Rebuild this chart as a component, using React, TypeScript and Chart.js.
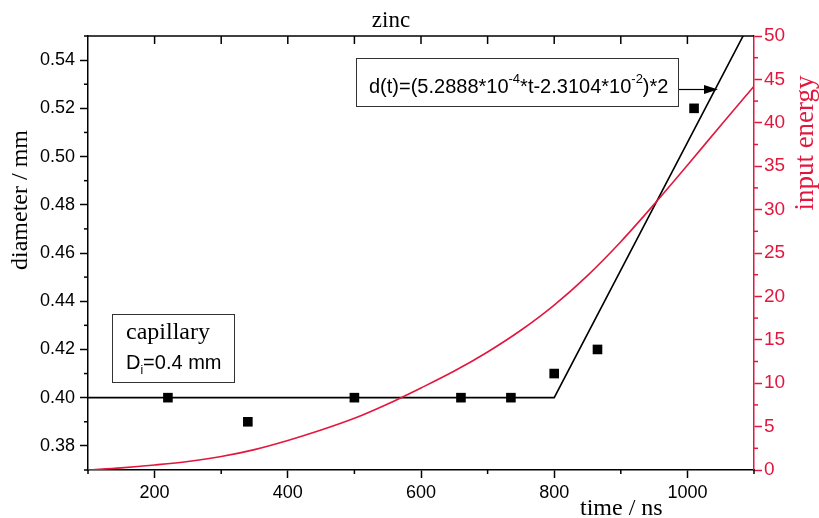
import React, { useEffect, useRef } from "react";
import { Chart, registerables } from "chart.js";

Chart.register(...registerables);

// ---- data ----
const measTime = [220, 340, 500, 660, 735, 800, 865, 1010];
const measDiameter = [0.4, 0.39, 0.4, 0.4, 0.4, 0.41, 0.42, 0.52];

const fitTime = [100, 800, 1100];
const fitDiameter = [0.4, 0.4, 0.5587];

const energyTime = [100, 150, 200, 250, 300, 350, 400, 450, 500, 550, 600, 650, 700, 750, 800, 850, 900, 950, 1000, 1050, 1100];
const energyValue = [0.0, 0.25, 0.58, 0.98, 1.55, 2.35, 3.4, 4.6, 5.95, 7.6, 9.45, 11.4, 13.6, 16.1, 19.0, 22.4, 26.3, 30.6, 35.1, 39.7, 44.2];

const xMin = 100, xMax = 1100;
const yMin = 0.37, yMax = 0.55;
const y2Min = 0, y2Max = 50;

const RED = "#e3173e";
const SANS = '"Liberation Sans", Arial, sans-serif';
const SERIF = '"Liberation Serif", "Times New Roman", serif';

const decorPlugin = {
  id: "decor",
  afterDraw(chart: any) {
    const ctx = chart.ctx as CanvasRenderingContext2D;
    const { left, right, top, bottom } = chart.chartArea;
    const xs = chart.scales.x;
    const ys = chart.scales.y;
    const y2 = chart.scales.y2;
    ctx.save();
    // top frame
    ctx.strokeStyle = "#000";
    ctx.lineWidth = 1.5;
    ctx.beginPath();
    ctx.moveTo(left, top);
    ctx.lineTo(right, top);
    ctx.stroke();
    // top inward ticks + bottom minor ticks
    for (let v = 200; v <= 1000; v += 100) {
      const px = xs.getPixelForValue(v);
      ctx.beginPath();
      ctx.moveTo(px, top);
      ctx.lineTo(px, top + 8);
      ctx.stroke();
    }
    for (let v = 100; v <= 1100; v += 200) {
      const px = xs.getPixelForValue(v);
      ctx.beginPath();
      ctx.moveTo(px, bottom);
      ctx.lineTo(px, bottom + 4);
      ctx.stroke();
    }
    // left minor ticks
    for (let i = 37; i <= 55; i += 2) {
      const py = ys.getPixelForValue(i / 100);
      ctx.beginPath();
      ctx.moveTo(left, py);
      ctx.lineTo(left - 4, py);
      ctx.stroke();
    }
    // right minor ticks
    ctx.strokeStyle = RED;
    for (let v = 2.5; v < 50; v += 5) {
      const py = y2.getPixelForValue(v);
      ctx.beginPath();
      ctx.moveTo(right, py);
      ctx.lineTo(right + 4, py);
      ctx.stroke();
    }

    // titles
    ctx.fillStyle = "#000";
    ctx.textBaseline = "alphabetic";
    ctx.font = `23px ${SERIF}`;
    ctx.textAlign = "center";
    ctx.fillText("zinc", 391, 27);
    ctx.font = `24px ${SERIF}`;
    ctx.textAlign = "left";
    ctx.fillText("time / ns", 580, 515);

    ctx.save();
    ctx.translate(27, 200);
    ctx.rotate(-Math.PI / 2);
    ctx.textAlign = "center";
    ctx.font = `24px ${SERIF}`;
    ctx.fillText("diameter / mm", 0, 0);
    ctx.restore();

    ctx.save();
    ctx.translate(813, 143);
    ctx.rotate(-Math.PI / 2);
    ctx.textAlign = "center";
    ctx.fillStyle = RED;
    ctx.font = `27px ${SERIF}`;
    ctx.fillText("input energy", 0, 0);
    ctx.restore();

    // capillary box
    ctx.strokeStyle = "#333";
    ctx.lineWidth = 1;
    ctx.fillStyle = "#fff";
    ctx.fillRect(112.5, 314.5, 122, 68);
    ctx.strokeRect(112.5, 314.5, 122, 68);
    ctx.fillStyle = "#000";
    ctx.textAlign = "left";
    ctx.font = `24px ${SERIF}`;
    ctx.fillText("capillary", 126, 339);
    let cx = 126;
    ctx.font = `20px ${SANS}`;
    ctx.fillText("D", cx, 369);
    cx += ctx.measureText("D").width;
    ctx.font = `12px ${SANS}`;
    ctx.fillText("i", cx, 374);
    cx += ctx.measureText("i").width;
    ctx.font = `20px ${SANS}`;
    ctx.fillText("=0.4 mm", cx, 369);

    // formula box
    ctx.fillStyle = "#fff";
    ctx.fillRect(356.5, 58.5, 322, 48);
    ctx.strokeRect(356.5, 58.5, 322, 48);
    ctx.fillStyle = "#000";
    const parts: [string, boolean][] = [
      ["d(t)=(5.2888*10", false],
      ["-4", true],
      ["*t-2.3104*10", false],
      ["-2", true],
      [")*2", false],
    ];
    let fx = 369;
    for (const [s, sup] of parts) {
      ctx.font = sup ? `13px ${SANS}` : `20px ${SANS}`;
      ctx.fillText(s, fx, sup ? 83 : 93);
      fx += ctx.measureText(s).width;
    }
    // arrow
    ctx.strokeStyle = "#000";
    ctx.lineWidth = 1.2;
    ctx.beginPath();
    ctx.moveTo(679, 89.5);
    ctx.lineTo(706, 89.5);
    ctx.stroke();
    ctx.beginPath();
    ctx.moveTo(718, 89.5);
    ctx.lineTo(704, 85);
    ctx.lineTo(704, 94);
    ctx.closePath();
    ctx.fill();

    ctx.restore();
  },
};

export default function App() {
  const ref = useRef<HTMLCanvasElement | null>(null);
  useEffect(() => {
    if (!ref.current) return;
    const chart = new Chart(ref.current, {
      type: "scatter",
      data: {
        datasets: [
          {
            label: "energy",
            type: "line",
            data: energyTime.map((t, i) => ({ x: t, y: energyValue[i] })),
            yAxisID: "y2",
            borderColor: RED,
            borderWidth: 1.6,
            pointRadius: 0,
            fill: false,
            cubicInterpolationMode: "monotone",
          } as any,
          {
            label: "fit",
            type: "line",
            data: fitTime.map((t, i) => ({ x: t, y: fitDiameter[i] })),
            yAxisID: "y",
            borderColor: "#000",
            borderWidth: 1.6,
            pointRadius: 0,
            fill: false,
            tension: 0,
          } as any,
          {
            label: "diameter",
            data: measTime.map((t, i) => ({ x: t, y: measDiameter[i] })),
            yAxisID: "y",
            pointStyle: "rect",
            pointRadius: 6.8,
            backgroundColor: "#000",
            borderColor: "#000",
            borderWidth: 0,
          },
        ],
      },
      plugins: [decorPlugin],
      options: {
        animation: false,
        responsive: true,
        maintainAspectRatio: false,
        layout: { padding: { top: 36, left: 0, right: 0, bottom: 0 } },
        plugins: { legend: { display: false }, tooltip: { enabled: false }, title: { display: false } },
        scales: {
          x: {
            type: "linear",
            position: "bottom",
            min: xMin,
            max: xMax,
            afterFit: (s: any) => { s.height = 48; },
            border: { color: "#000", width: 1.5 },
            grid: {
              drawOnChartArea: false,
              tickLength: 8,
              tickWidth: 1.5,
              tickColor: (c: any) => (c.tick && Math.round(c.tick.value) % 200 === 0 ? "#000" : "rgba(0,0,0,0)"),
            },
            ticks: {
              stepSize: 100,
              autoSkip: false,
              maxRotation: 0,
              padding: 4,
              color: "#000",
              font: { family: SANS, size: 18 },
              callback: (v: any) => (Math.round(v) % 200 === 0 ? String(Math.round(v)) : ""),
            },
          },
          y: {
            type: "linear",
            position: "left",
            min: yMin,
            max: yMax,
            afterFit: (s: any) => { s.width = 88; },
            border: { color: "#000", width: 1.5 },
            grid: {
              drawOnChartArea: false,
              tickLength: 8,
              tickWidth: 1.5,
              tickColor: (c: any) => (c.tick && Math.round(c.tick.value * 100) % 2 === 0 ? "#000" : "rgba(0,0,0,0)"),
            },
            ticks: {
              stepSize: 0.01,
              autoSkip: false,
              padding: 5,
              color: "#000",
              font: { family: SANS, size: 18 },
              callback: (v: any) => (Math.round(v * 100) % 2 === 0 ? Number(v).toFixed(2) : ""),
            },
          },
          y2: {
            type: "linear",
            position: "right",
            min: y2Min,
            max: y2Max,
            afterFit: (s: any) => { s.width = 65; },
            border: { color: RED, width: 1.5 },
            grid: { drawOnChartArea: false, tickLength: 8, tickWidth: 1.5, tickColor: RED },
            ticks: {
              stepSize: 5,
              autoSkip: false,
              padding: 2,
              color: RED,
              font: { family: SANS, size: 19 },
            },
          },
        },
      } as any,
    });
    return () => chart.destroy();
  }, []);
  return (
    <div style={{ position: "absolute", left: 0, top: 0, width: 819, height: 518, background: "#fff" }}>
      <canvas ref={ref} />
    </div>
  );
}
